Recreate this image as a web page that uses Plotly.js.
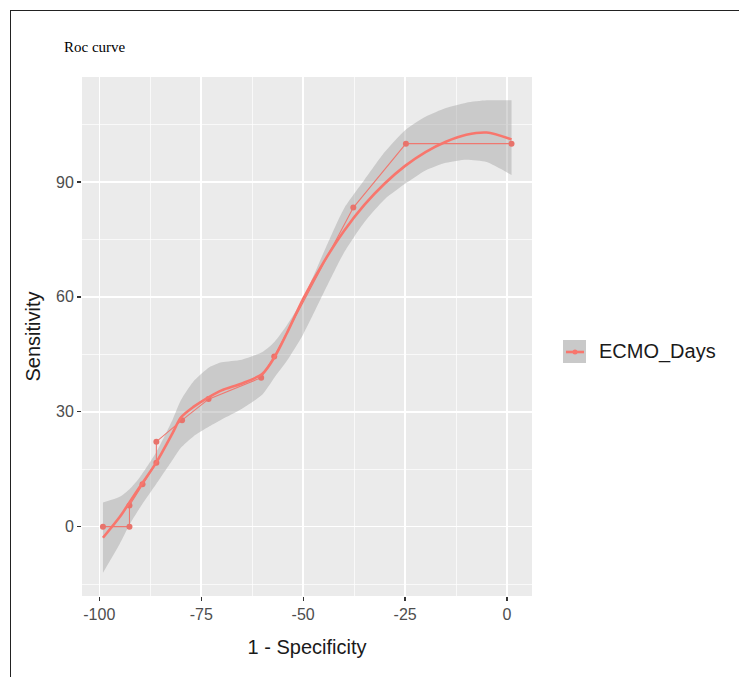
<!DOCTYPE html>
<html>
<head>
<meta charset="utf-8">
<script src="https://cdn.plot.ly/plotly-3.0.1.min.js"></script>
<style>
  html, body { margin: 0; padding: 0; background: #ffffff; }
  #chart { position: absolute; left: 0; top: 0; width: 739px; height: 677px; }
  #frame { position: absolute; left: 10px; top: 10px; width: 729px; height: 667px;
           border-left: 1px solid #222; border-top: 1px solid #222; pointer-events: none; }
</style>
</head>
<body>
<div id="chart"></div>
<div id="frame"></div>
<script>
// ROC step points (1 - Specificity, Sensitivity)
const rocX = [-99.1, -92.6, -92.6, -89.4, -86.0, -86.0, -79.7, -73.2, -60.3, -57.1, -37.7, -24.8, 1.1];
const rocY = [0, 0, 5.56, 11.1, 16.7, 22.2, 27.8, 33.3, 38.9, 44.4, 83.3, 100, 100];

// Smoothed fit with confidence band
const smoothX = [-99.1, -95, -92.6, -90, -86, -82, -80, -77, -73, -70, -65, -60, -57, -54, -50, -45, -40, -35, -30, -25, -20, -15, -10, -5, 1.1];
const smoothY = [-2.9, 2.5, 6.3, 10.5, 16.8, 24.5, 28.5, 31.2, 33.9, 35.6, 37.4, 39.9, 44.3, 50.5, 59.5, 69.0, 77.2, 84.0, 89.6, 94.2, 97.8, 100.5, 102.3, 102.9, 101.1];
const upperY = [6.3, 7.8, 9.8, 13.0, 19.5, 28.0, 33.0, 37.8, 41.6, 42.9, 43.6, 45.6, 48.3, 52.6, 59.5, 71.5, 83.0, 90.5, 97.8, 103.5, 107.0, 109.3, 110.7, 111.3, 111.3];
const lowerY = [-12.0, -4.5, 0.5, 5.0, 11.2, 17.5, 20.6, 23.5, 26.2, 28.0, 30.8, 34.5, 39.0, 43.3, 50.2, 61.0, 71.5, 79.5, 85.5, 89.5, 93.0, 95.0, 95.8, 95.2, 91.8];

const xTicks = [-100, -75, -50, -25, 0];
const yTicks = [0, 30, 60, 90];
const seriesName = "ECMO_Days";

const red = "#F8766D";

const traces = [
  {
    x: smoothX, y: lowerY, type: "scatter", mode: "lines",
    line: { width: 0, shape: "spline", smoothing: 0.6 },
    showlegend: false, hoverinfo: "skip"
  },
  {
    x: smoothX, y: upperY, type: "scatter", mode: "lines", fill: "tonexty",
    fillcolor: "rgba(153,153,153,0.4)", line: { width: 0, shape: "spline", smoothing: 0.6 },
    showlegend: false, hoverinfo: "skip"
  },
  {
    x: rocX, y: rocY, type: "scatter", mode: "lines+markers",
    line: { color: "#EF7870", width: 1.1 },
    marker: { color: "#E8736B", size: 6 },
    showlegend: false, hoverinfo: "skip"
  },
  {
    x: smoothX, y: smoothY, type: "scatter", mode: "lines",
    line: { color: red, width: 2.6, shape: "spline", smoothing: 0.8 },
    name: seriesName, showlegend: false, hoverinfo: "skip"
  }
];

const tickFont = { family: "Liberation Sans, Arial, sans-serif", size: 16, color: "#4D4D4D" };
const titleFont = { family: "Liberation Sans, Arial, sans-serif", size: 20, color: "#1a1a1a" };

const layout = {
  width: 739, height: 677,
  margin: { l: 82, r: 207, t: 77, b: 81, pad: 0 },
  paper_bgcolor: "#ffffff",
  plot_bgcolor: "#EBEBEB",
  showlegend: false,
  xaxis: {
    range: [-104.24, 6.12],
    tickvals: xTicks, ticktext: xTicks.map(String),
    ticks: "outside", ticklen: 4, tickwidth: 1.3, tickcolor: "#333333",
    showgrid: true, gridcolor: "#ffffff", gridwidth: 1.5,
    minor: { dtick: 12.5, tick0: 0, showgrid: true, gridcolor: "#ffffff", gridwidth: 0.7 },
    zeroline: false, showline: false,
    tickfont: tickFont,
    title: { text: "1 - Specificity", font: titleFont, standoff: 17 }
  },
  yaxis: {
    range: [-18.1, 117.4],
    tickvals: yTicks, ticktext: yTicks.map(String),
    ticks: "outside", ticklen: 4, tickwidth: 1.3, tickcolor: "#333333",
    showgrid: true, gridcolor: "#ffffff", gridwidth: 1.5,
    minor: { dtick: 15, tick0: 0, showgrid: true, gridcolor: "#ffffff", gridwidth: 0.7 },
    zeroline: false, showline: false,
    tickfont: tickFont,
    title: { text: "Sensitivity", font: titleFont, standoff: 10 }
  },
  annotations: [
    {
      text: "Roc curve", xref: "paper", yref: "paper",
      x: (62 - 82) / 450, y: (596 - 47) / 519, xanchor: "left", yanchor: "middle",
      showarrow: false,
      font: { family: "Liberation Serif, Times New Roman, serif", size: 15, color: "#000000" }
    },
    {
      text: seriesName, xref: "paper", yref: "paper",
      x: (597 - 82) / 450, y: (596 - 352) / 519, xanchor: "left", yanchor: "middle",
      showarrow: false,
      font: { family: "Liberation Sans, Arial, sans-serif", size: 20, color: "#1a1a1a" }
    }
  ],
  shapes: [
    {
      type: "rect", xref: "paper", yref: "paper",
      x0: (563 - 82) / 450, x1: (586 - 82) / 450,
      y0: (596 - 363) / 519, y1: (596 - 340) / 519,
      fillcolor: "#C9C9C9", line: { width: 0 }
    },
    {
      type: "line", xref: "paper", yref: "paper",
      x0: (566 - 82) / 450, x1: (584 - 82) / 450,
      y0: (596 - 352) / 519, y1: (596 - 352) / 519,
      line: { color: red, width: 2.6 }
    },
    {
      type: "circle", xref: "paper", yref: "paper",
      x0: (572.5 - 82) / 450, x1: (577.5 - 82) / 450,
      y0: (596 - 354.5) / 519, y1: (596 - 349.5) / 519,
      fillcolor: red, line: { width: 0 }
    }
  ]
};

Plotly.newPlot("chart", traces, layout, { displayModeBar: false, staticPlot: true });
</script>
</body>
</html>
